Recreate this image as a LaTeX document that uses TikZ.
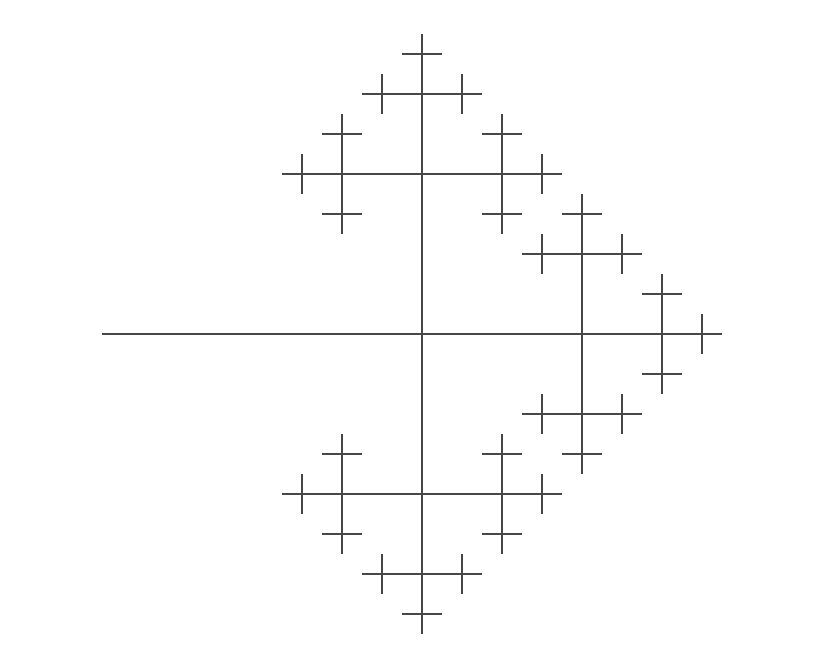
\documentclass[tikz,border=0pt]{standalone}
\tikzset{stem/.style={black!72,line width=0.7pt}}
% one arm of length #1, then three arms of half length at its end, #2 more times
\newcommand\tbranch[2]{%
  \draw[stem] (0,0) -- (#1,0);
  \ifnum#2>0
    \begin{scope}[shift={(#1,0)}]
      \pgfmathsetmacro\sublen{#1/2}%
      \pgfmathtruncatemacro\subdepth{#2-1}%
      \foreach \ang in {0,90,-90}{
        \begin{scope}[rotate=\ang]
          \tbranch{\sublen}{\subdepth}
        \end{scope}
      }
    \end{scope}
  \fi}
\begin{document}
\begin{tikzpicture}[x=0.02cm,y=-0.02cm]
  \useasboundingbox (0,0) rectangle (825,665);
  % the stem comes in from the left and branches four times
  \begin{scope}[shift={(102,334)}]
    \tbranch{320}{4}
  \end{scope}
\end{tikzpicture}
\end{document}
